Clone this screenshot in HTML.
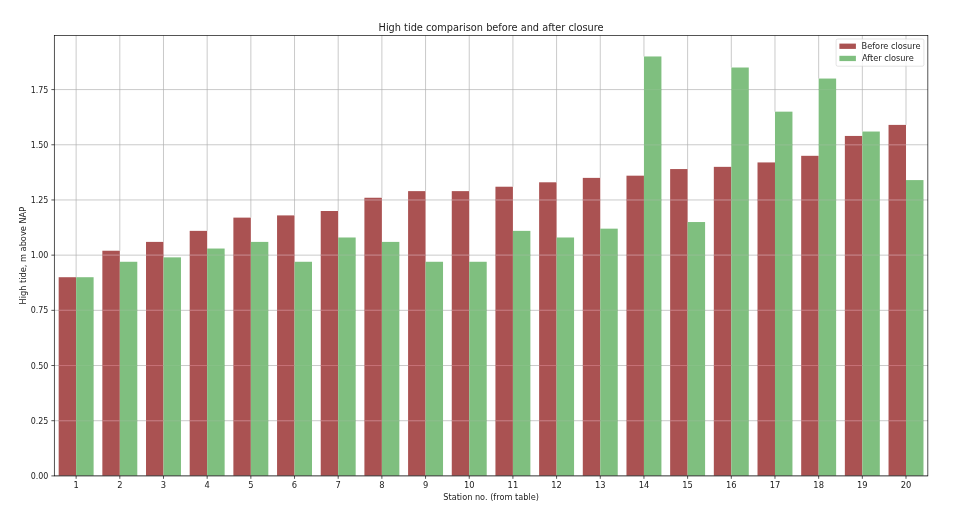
<!DOCTYPE html>
<html lang="en"><head><meta charset="utf-8"><title>High tide comparison before and after closure</title>
<style>html,body{margin:0;padding:0;background:#fff;overflow:hidden}svg{display:block}text{font-family:"DejaVu Sans","Liberation Sans",sans-serif;fill:#1c1c1c}</style></head><body>
<svg width="960" height="514" viewBox="0 0 960 514">
<rect width="960" height="514" fill="#fff"/>
<g>
<rect x="58.67" y="277.22" width="17.47" height="198.68" fill="#aa5252"/>
<rect x="76.14" y="277.22" width="17.47" height="198.68" fill="#7fbf7f"/>
<rect x="102.35" y="250.73" width="17.47" height="225.17" fill="#aa5252"/>
<rect x="119.82" y="261.77" width="17.47" height="214.13" fill="#7fbf7f"/>
<rect x="146.02" y="241.90" width="17.47" height="234.00" fill="#aa5252"/>
<rect x="163.49" y="257.36" width="17.47" height="218.54" fill="#7fbf7f"/>
<rect x="189.70" y="230.87" width="17.47" height="245.03" fill="#aa5252"/>
<rect x="207.17" y="248.53" width="17.47" height="227.37" fill="#7fbf7f"/>
<rect x="233.38" y="217.62" width="17.47" height="258.28" fill="#aa5252"/>
<rect x="250.85" y="241.90" width="17.47" height="234.00" fill="#7fbf7f"/>
<rect x="277.06" y="215.41" width="17.47" height="260.49" fill="#aa5252"/>
<rect x="294.53" y="261.77" width="17.47" height="214.13" fill="#7fbf7f"/>
<rect x="320.73" y="211.00" width="17.47" height="264.90" fill="#aa5252"/>
<rect x="338.20" y="237.49" width="17.47" height="238.41" fill="#7fbf7f"/>
<rect x="364.41" y="197.75" width="17.47" height="278.15" fill="#aa5252"/>
<rect x="381.88" y="241.90" width="17.47" height="234.00" fill="#7fbf7f"/>
<rect x="408.09" y="191.13" width="17.47" height="284.77" fill="#aa5252"/>
<rect x="425.56" y="261.77" width="17.47" height="214.13" fill="#7fbf7f"/>
<rect x="451.77" y="191.13" width="17.47" height="284.77" fill="#aa5252"/>
<rect x="469.24" y="261.77" width="17.47" height="214.13" fill="#7fbf7f"/>
<rect x="495.44" y="186.72" width="17.47" height="289.18" fill="#aa5252"/>
<rect x="512.91" y="230.87" width="17.47" height="245.03" fill="#7fbf7f"/>
<rect x="539.12" y="182.30" width="17.47" height="293.60" fill="#aa5252"/>
<rect x="556.59" y="237.49" width="17.47" height="238.41" fill="#7fbf7f"/>
<rect x="582.80" y="177.88" width="17.47" height="298.02" fill="#aa5252"/>
<rect x="600.27" y="228.66" width="17.47" height="247.24" fill="#7fbf7f"/>
<rect x="626.48" y="175.68" width="17.47" height="300.22" fill="#aa5252"/>
<rect x="643.95" y="56.47" width="17.47" height="419.43" fill="#7fbf7f"/>
<rect x="670.15" y="169.05" width="17.47" height="306.85" fill="#aa5252"/>
<rect x="687.62" y="222.04" width="17.47" height="253.86" fill="#7fbf7f"/>
<rect x="713.83" y="166.85" width="17.47" height="309.05" fill="#aa5252"/>
<rect x="731.30" y="67.51" width="17.47" height="408.39" fill="#7fbf7f"/>
<rect x="757.51" y="162.43" width="17.47" height="313.47" fill="#aa5252"/>
<rect x="774.98" y="111.66" width="17.47" height="364.24" fill="#7fbf7f"/>
<rect x="801.19" y="155.81" width="17.47" height="320.09" fill="#aa5252"/>
<rect x="818.66" y="78.55" width="17.47" height="397.35" fill="#7fbf7f"/>
<rect x="844.86" y="135.94" width="17.47" height="339.96" fill="#aa5252"/>
<rect x="862.33" y="131.53" width="17.47" height="344.37" fill="#7fbf7f"/>
<rect x="888.54" y="124.90" width="17.47" height="351.00" fill="#aa5252"/>
<rect x="906.01" y="180.09" width="17.47" height="295.81" fill="#7fbf7f"/>
</g>
<g stroke="#b0b0b0" stroke-width="0.67" fill="none">
<line x1="76.14" y1="35.5" x2="76.14" y2="277.22"/>
<line x1="119.82" y1="35.5" x2="119.82" y2="250.73"/>
<line x1="163.49" y1="35.5" x2="163.49" y2="241.90"/>
<line x1="207.17" y1="35.5" x2="207.17" y2="230.87"/>
<line x1="250.85" y1="35.5" x2="250.85" y2="217.62"/>
<line x1="294.53" y1="35.5" x2="294.53" y2="215.41"/>
<line x1="338.20" y1="35.5" x2="338.20" y2="211.00"/>
<line x1="381.88" y1="35.5" x2="381.88" y2="197.75"/>
<line x1="425.56" y1="35.5" x2="425.56" y2="191.13"/>
<line x1="469.24" y1="35.5" x2="469.24" y2="191.13"/>
<line x1="512.91" y1="35.5" x2="512.91" y2="186.72"/>
<line x1="556.59" y1="35.5" x2="556.59" y2="182.30"/>
<line x1="600.27" y1="35.5" x2="600.27" y2="177.88"/>
<line x1="643.95" y1="35.5" x2="643.95" y2="56.47"/>
<line x1="687.62" y1="35.5" x2="687.62" y2="169.05"/>
<line x1="731.30" y1="35.5" x2="731.30" y2="67.51"/>
<line x1="774.98" y1="35.5" x2="774.98" y2="111.66"/>
<line x1="818.66" y1="35.5" x2="818.66" y2="78.55"/>
<line x1="862.33" y1="35.5" x2="862.33" y2="131.53"/>
<line x1="906.01" y1="35.5" x2="906.01" y2="124.90"/>
<line x1="54.3" y1="475.90" x2="927.85" y2="475.90"/>
<line x1="54.3" y1="420.71" x2="927.85" y2="420.71"/>
<line x1="54.3" y1="365.52" x2="927.85" y2="365.52"/>
<line x1="54.3" y1="310.34" x2="927.85" y2="310.34"/>
<line x1="54.3" y1="255.15" x2="927.85" y2="255.15"/>
<line x1="54.3" y1="199.96" x2="927.85" y2="199.96"/>
<line x1="54.3" y1="144.77" x2="927.85" y2="144.77"/>
<line x1="54.3" y1="89.58" x2="927.85" y2="89.58"/>
</g>
<path d="M58.67 420.71H76.14M102.35 420.71H119.82M146.02 420.71H163.49M189.70 420.71H207.17M233.38 420.71H250.85M277.06 420.71H294.53M320.73 420.71H338.20M364.41 420.71H381.88M408.09 420.71H425.56M451.77 420.71H469.24M495.44 420.71H512.91M539.12 420.71H556.59M582.80 420.71H600.27M626.48 420.71H643.95M670.15 420.71H687.62M713.83 420.71H731.30M757.51 420.71H774.98M801.19 420.71H818.66M844.86 420.71H862.33M888.54 420.71H906.01M58.67 365.52H76.14M102.35 365.52H119.82M146.02 365.52H163.49M189.70 365.52H207.17M233.38 365.52H250.85M277.06 365.52H294.53M320.73 365.52H338.20M364.41 365.52H381.88M408.09 365.52H425.56M451.77 365.52H469.24M495.44 365.52H512.91M539.12 365.52H556.59M582.80 365.52H600.27M626.48 365.52H643.95M670.15 365.52H687.62M713.83 365.52H731.30M757.51 365.52H774.98M801.19 365.52H818.66M844.86 365.52H862.33M888.54 365.52H906.01M58.67 310.34H76.14M102.35 310.34H119.82M146.02 310.34H163.49M189.70 310.34H207.17M233.38 310.34H250.85M277.06 310.34H294.53M320.73 310.34H338.20M364.41 310.34H381.88M408.09 310.34H425.56M451.77 310.34H469.24M495.44 310.34H512.91M539.12 310.34H556.59M582.80 310.34H600.27M626.48 310.34H643.95M670.15 310.34H687.62M713.83 310.34H731.30M757.51 310.34H774.98M801.19 310.34H818.66M844.86 310.34H862.33M888.54 310.34H906.01M102.35 255.15H119.82M146.02 255.15H163.49M189.70 255.15H207.17M233.38 255.15H250.85M277.06 255.15H294.53M320.73 255.15H338.20M364.41 255.15H381.88M408.09 255.15H425.56M451.77 255.15H469.24M495.44 255.15H512.91M539.12 255.15H556.59M582.80 255.15H600.27M626.48 255.15H643.95M670.15 255.15H687.62M713.83 255.15H731.30M757.51 255.15H774.98M801.19 255.15H818.66M844.86 255.15H862.33M888.54 255.15H906.01M364.41 199.96H381.88M408.09 199.96H425.56M451.77 199.96H469.24M495.44 199.96H512.91M539.12 199.96H556.59M582.80 199.96H600.27M626.48 199.96H643.95M670.15 199.96H687.62M713.83 199.96H731.30M757.51 199.96H774.98M801.19 199.96H818.66M844.86 199.96H862.33M888.54 199.96H906.01M844.86 144.77H862.33M888.54 144.77H906.01" stroke="#c77076" stroke-width="1" fill="none"/>
<path d="M76.14 420.71H93.61M119.82 420.71H137.29M163.49 420.71H180.96M207.17 420.71H224.64M250.85 420.71H268.32M294.53 420.71H312.00M338.20 420.71H355.67M381.88 420.71H399.35M425.56 420.71H443.03M469.24 420.71H486.71M512.91 420.71H530.38M556.59 420.71H574.06M600.27 420.71H617.74M643.95 420.71H661.42M687.62 420.71H705.09M731.30 420.71H748.77M774.98 420.71H792.45M818.66 420.71H836.13M862.33 420.71H879.80M906.01 420.71H923.48M76.14 365.52H93.61M119.82 365.52H137.29M163.49 365.52H180.96M207.17 365.52H224.64M250.85 365.52H268.32M294.53 365.52H312.00M338.20 365.52H355.67M381.88 365.52H399.35M425.56 365.52H443.03M469.24 365.52H486.71M512.91 365.52H530.38M556.59 365.52H574.06M600.27 365.52H617.74M643.95 365.52H661.42M687.62 365.52H705.09M731.30 365.52H748.77M774.98 365.52H792.45M818.66 365.52H836.13M862.33 365.52H879.80M906.01 365.52H923.48M76.14 310.34H93.61M119.82 310.34H137.29M163.49 310.34H180.96M207.17 310.34H224.64M250.85 310.34H268.32M294.53 310.34H312.00M338.20 310.34H355.67M381.88 310.34H399.35M425.56 310.34H443.03M469.24 310.34H486.71M512.91 310.34H530.38M556.59 310.34H574.06M600.27 310.34H617.74M643.95 310.34H661.42M687.62 310.34H705.09M731.30 310.34H748.77M774.98 310.34H792.45M818.66 310.34H836.13M862.33 310.34H879.80M906.01 310.34H923.48M207.17 255.15H224.64M250.85 255.15H268.32M338.20 255.15H355.67M381.88 255.15H399.35M512.91 255.15H530.38M556.59 255.15H574.06M600.27 255.15H617.74M643.95 255.15H661.42M687.62 255.15H705.09M731.30 255.15H748.77M774.98 255.15H792.45M818.66 255.15H836.13M862.33 255.15H879.80M906.01 255.15H923.48M643.95 199.96H661.42M731.30 199.96H748.77M774.98 199.96H792.45M818.66 199.96H836.13M862.33 199.96H879.80M906.01 199.96H923.48M643.95 144.77H661.42M731.30 144.77H748.77M774.98 144.77H792.45M818.66 144.77H836.13M862.33 144.77H879.80M643.95 89.58H661.42M731.30 89.58H748.77M818.66 89.58H836.13" stroke="#86c286" stroke-width="1" fill="none"/>
<g stroke="#000" stroke-width="0.67" fill="none">
<line x1="76.14" y1="475.9" x2="76.14" y2="478.82"/>
<line x1="119.82" y1="475.9" x2="119.82" y2="478.82"/>
<line x1="163.49" y1="475.9" x2="163.49" y2="478.82"/>
<line x1="207.17" y1="475.9" x2="207.17" y2="478.82"/>
<line x1="250.85" y1="475.9" x2="250.85" y2="478.82"/>
<line x1="294.53" y1="475.9" x2="294.53" y2="478.82"/>
<line x1="338.20" y1="475.9" x2="338.20" y2="478.82"/>
<line x1="381.88" y1="475.9" x2="381.88" y2="478.82"/>
<line x1="425.56" y1="475.9" x2="425.56" y2="478.82"/>
<line x1="469.24" y1="475.9" x2="469.24" y2="478.82"/>
<line x1="512.91" y1="475.9" x2="512.91" y2="478.82"/>
<line x1="556.59" y1="475.9" x2="556.59" y2="478.82"/>
<line x1="600.27" y1="475.9" x2="600.27" y2="478.82"/>
<line x1="643.95" y1="475.9" x2="643.95" y2="478.82"/>
<line x1="687.62" y1="475.9" x2="687.62" y2="478.82"/>
<line x1="731.30" y1="475.9" x2="731.30" y2="478.82"/>
<line x1="774.98" y1="475.9" x2="774.98" y2="478.82"/>
<line x1="818.66" y1="475.9" x2="818.66" y2="478.82"/>
<line x1="862.33" y1="475.9" x2="862.33" y2="478.82"/>
<line x1="906.01" y1="475.9" x2="906.01" y2="478.82"/>
<line x1="51.38" y1="475.90" x2="54.3" y2="475.90"/>
<line x1="51.38" y1="420.71" x2="54.3" y2="420.71"/>
<line x1="51.38" y1="365.52" x2="54.3" y2="365.52"/>
<line x1="51.38" y1="310.34" x2="54.3" y2="310.34"/>
<line x1="51.38" y1="255.15" x2="54.3" y2="255.15"/>
<line x1="51.38" y1="199.96" x2="54.3" y2="199.96"/>
<line x1="51.38" y1="144.77" x2="54.3" y2="144.77"/>
<line x1="51.38" y1="89.58" x2="54.3" y2="89.58"/>
</g>
<rect x="54.3" y="35.5" width="873.5500000000001" height="440.4" fill="none" stroke="#000" stroke-width="0.67"/>
<g font-size="8.33" text-anchor="middle">
<text x="76.14" y="487.8">1</text>
<text x="119.82" y="487.8">2</text>
<text x="163.49" y="487.8">3</text>
<text x="207.17" y="487.8">4</text>
<text x="250.85" y="487.8">5</text>
<text x="294.53" y="487.8">6</text>
<text x="338.20" y="487.8">7</text>
<text x="381.88" y="487.8">8</text>
<text x="425.56" y="487.8">9</text>
<text x="469.24" y="487.8">10</text>
<text x="512.91" y="487.8">11</text>
<text x="556.59" y="487.8">12</text>
<text x="600.27" y="487.8">13</text>
<text x="643.95" y="487.8">14</text>
<text x="687.62" y="487.8">15</text>
<text x="731.30" y="487.8">16</text>
<text x="774.98" y="487.8">17</text>
<text x="818.66" y="487.8">18</text>
<text x="862.33" y="487.8">19</text>
<text x="906.01" y="487.8">20</text>
</g>
<g font-size="8.33" text-anchor="end">
<text x="48.4" y="478.95" textLength="17.7" lengthAdjust="spacingAndGlyphs">0.00</text>
<text x="48.4" y="423.76" textLength="17.7" lengthAdjust="spacingAndGlyphs">0.25</text>
<text x="48.4" y="368.57" textLength="17.7" lengthAdjust="spacingAndGlyphs">0.50</text>
<text x="48.4" y="313.39" textLength="17.7" lengthAdjust="spacingAndGlyphs">0.75</text>
<text x="48.4" y="258.20" textLength="17.7" lengthAdjust="spacingAndGlyphs">1.00</text>
<text x="48.4" y="203.01" textLength="17.7" lengthAdjust="spacingAndGlyphs">1.25</text>
<text x="48.4" y="147.82" textLength="17.7" lengthAdjust="spacingAndGlyphs">1.50</text>
<text x="48.4" y="92.63" textLength="17.7" lengthAdjust="spacingAndGlyphs">1.75</text>
</g>
<text x="491.07" y="499.8" font-size="8.33" text-anchor="middle" textLength="95.6" lengthAdjust="spacingAndGlyphs">Station no. (from table)</text>
<text transform="translate(25.7 255.70) rotate(-90)" font-size="8.33" text-anchor="middle" textLength="97.7" lengthAdjust="spacingAndGlyphs">High tide, m above NAP</text>
<text x="491.07" y="30.7" font-size="10" text-anchor="middle" textLength="225" lengthAdjust="spacingAndGlyphs">High tide comparison before and after closure</text>
<rect x="836.1" y="39.0" width="87.80" height="27.20" rx="1.7" ry="1.7" fill="#fff" fill-opacity="0.8" stroke="#ccc" stroke-opacity="0.8" stroke-width="0.67"/>
<rect x="839.4" y="43.6" width="16.5" height="5.3" fill="#aa5252"/>
<rect x="839.4" y="55.8" width="16.5" height="5.3" fill="#7fbf7f"/>
<text x="861.5" y="49.3" font-size="8.33" textLength="59.1" lengthAdjust="spacingAndGlyphs">Before closure</text>
<text x="861.9" y="61.1" font-size="8.33" textLength="51.9" lengthAdjust="spacingAndGlyphs">After closure</text>
</svg></body></html>
